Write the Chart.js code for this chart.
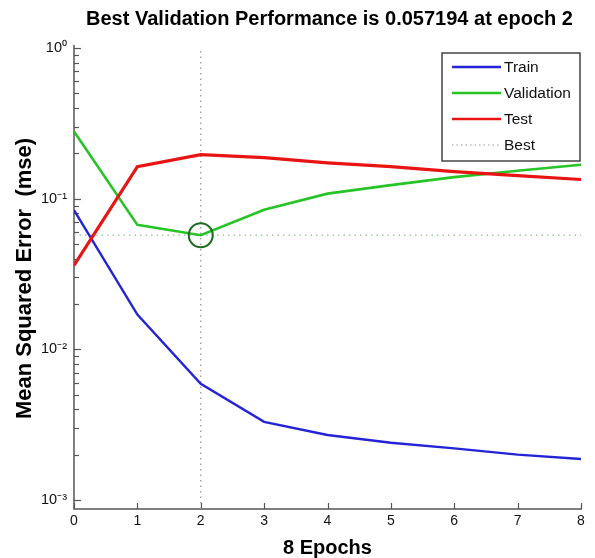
<!DOCTYPE html>
<html><head><meta charset="utf-8">
<script src="https://cdn.jsdelivr.net/npm/chart.js@4.4.1/dist/chart.umd.min.js"></script>
<style>html,body{margin:0;padding:0;background:#fff;}canvas{display:block;}</style>
</head><body>
<canvas id="c" width="595" height="558"></canvas>
<script>
const epochs = [0, 1, 2, 3, 4, 5, 6, 7, 8];
const trainMSE = [0.084, 0.017, 0.0059, 0.0033, 0.0027, 0.0024, 0.0022, 0.0020, 0.00187];
const validationMSE = [0.279, 0.067, 0.057194, 0.0845, 0.108, 0.123, 0.139, 0.153, 0.168];
const testMSE = [0.036, 0.163, 0.196, 0.187, 0.173, 0.163, 0.151, 0.142, 0.134];
const bestEpoch = 2;
const bestValue = 0.057194;
const xTickValues = [0, 1, 2, 3, 4, 5, 6, 7, 8];
const xTickLabels = ['0', '1', '2', '3', '4', '5', '6', '7', '8'];
const yTickValues = [0.001, 0.01, 0.1, 1];
const yTickLabels = ['10\u207B\u00B3', '10\u207B\u00B2', '10\u207B\u00B9', '10\u2070'];
const yMin = 0.000871, yMax = 1;
const legendLabels = ['Train', 'Validation', 'Test', 'Best'];
const titleText = 'Best Validation Performance is 0.057194 at epoch 2';
const xTitle = '8 Epochs';
const yTitle = 'Mean Squared Error  (mse)';

const COL = { train: '#2424d6', valid: '#27c427', test: '#e81414', best: '#9a9a9a', bestH: '#8cbf8c', circle: '#1e6a1e' };
const FONT = '"Liberation Sans", Arial, Helvetica, sans-serif';

const pts = (xs, ys) => xs.map((x, i) => ({ x: x, y: ys[i] }));

const axesPlugin = {
  id: 'axesDraw',
  beforeDatasetsDraw(chart) {
    const { ctx, chartArea: a, scales } = chart;
    const xs = scales.x, ys = scales.y;
    ctx.save();
    ctx.strokeStyle = '#555';
    ctx.lineWidth = 1.5;
    ctx.beginPath();
    ctx.moveTo(a.left, a.top - 3);
    ctx.lineTo(a.left, a.bottom);
    ctx.lineTo(a.right + 1, a.bottom);
    ctx.stroke();
    ctx.lineWidth = 1.2;
    yTickValues.forEach(dec => {
      for (let k = 1; k <= 9; k++) {
        const v = dec * k;
        if (v < yMin || v > yMax) continue;
        const y = Math.round(ys.getPixelForValue(v)) + 0.5;
        const len = k === 1 ? 7 : 5;
        ctx.beginPath(); ctx.moveTo(a.left, y); ctx.lineTo(a.left + len, y); ctx.stroke();
      }
    });
    xs.ticks.forEach(t => {
      const x = Math.round(xs.getPixelForValue(t.value)) + 0.5;
      ctx.beginPath(); ctx.moveTo(x, a.bottom); ctx.lineTo(x, a.bottom - 6); ctx.stroke();
    });
    ctx.restore();
  },
  afterDraw(chart) {
    const { ctx, chartArea: a } = chart;
    ctx.save();
    ctx.fillStyle = '#000';
    ctx.font = 'bold 20px ' + FONT;
    ctx.textAlign = 'center';
    ctx.textBaseline = 'middle';
    ctx.fillText(titleText, (a.left + a.right) / 2 + 2, 19);
    const w = 138, h = 108;
    const lx = a.right - 1 - w, ly = a.top + 5;
    ctx.fillStyle = '#fff';
    ctx.fillRect(lx, ly, w, h);
    ctx.strokeStyle = '#444';
    ctx.lineWidth = 1.5;
    ctx.strokeRect(lx, ly, w, h);
    const styles = [
      { c: COL.train, w: 2.5, dash: [] },
      { c: COL.valid, w: 2.5, dash: [] },
      { c: COL.test, w: 2.5, dash: [] },
      { c: COL.best, w: 1.2, dash: [1.5, 3] }
    ];
    ctx.font = '15.5px ' + FONT;
    ctx.textAlign = 'left';
    legendLabels.forEach((lab, i) => {
      const y = ly + 14 + i * 26;
      ctx.strokeStyle = styles[i].c;
      ctx.lineWidth = styles[i].w;
      ctx.setLineDash(styles[i].dash);
      ctx.beginPath(); ctx.moveTo(lx + 10, y); ctx.lineTo(lx + 59, y); ctx.stroke();
      ctx.setLineDash([]);
      ctx.fillStyle = '#111';
      ctx.fillText(lab, lx + 62, y + 1);
    });
    ctx.restore();
  }
};

new Chart(document.getElementById('c'), {
  type: 'line',
  data: {
    datasets: [
      { label: 'Best point', data: [{ x: bestEpoch, y: bestValue }], showLine: false,
        pointRadius: 12, pointHoverRadius: 12, pointBorderColor: COL.circle, pointBorderWidth: 2,
        pointBackgroundColor: 'rgba(0,0,0,0)' },
      { label: 'Test', data: pts(epochs, testMSE), borderColor: COL.test, borderWidth: 3.2, pointRadius: 0, tension: 0, fill: false },
      { label: 'Validation', data: pts(epochs, validationMSE), borderColor: COL.valid, borderWidth: 2.6, pointRadius: 0, tension: 0, fill: false },
      { label: 'Train', data: pts(epochs, trainMSE), borderColor: COL.train, borderWidth: 2.4, pointRadius: 0, tension: 0, fill: false },
      { label: 'Best', data: [{ x: epochs[0], y: bestValue }, { x: epochs[epochs.length - 1], y: bestValue }],
        borderColor: COL.bestH, borderWidth: 1.3, borderDash: [1.5, 4], pointRadius: 0, fill: false },
      { label: 'Best epoch', data: [{ x: bestEpoch, y: yMin }, { x: bestEpoch, y: yMax }],
        borderColor: COL.best, borderWidth: 1.3, borderDash: [1.5, 4], pointRadius: 0, fill: false, clip: 6 }
    ]
  },
  options: {
    responsive: false,
    animation: false,
    devicePixelRatio: 1,
    layout: { padding: { top: 48, left: 0, right: 13, bottom: 0 } },
    plugins: { legend: { display: false }, tooltip: { enabled: false }, title: { display: false } },
    scales: {
      x: {
        type: 'linear', min: 0, max: 8,
        afterBuildTicks: s => { s.ticks = xTickValues.map(v => ({ value: v })); },
        afterFit: s => { s.height = 49; },
        grid: { display: false, drawTicks: false },
        border: { display: false },
        ticks: { padding: 4, color: '#111', font: { size: 14, family: FONT }, maxRotation: 0, autoSkip: false,
          callback: (v, i) => xTickLabels[i] },
        title: { display: true, text: xTitle, color: '#000', font: { size: 20, weight: 'bold', family: FONT, lineHeight: 1 }, padding: 0 }
      },
      y: {
        type: 'logarithmic', min: yMin, max: yMax,
        afterBuildTicks: s => { s.ticks = yTickValues.map(v => ({ value: v })); },
        afterFit: s => { s.width = 74; },
        grid: { display: false, drawTicks: false },
        border: { display: false },
        ticks: { padding: 7, color: '#111', font: { size: 14.5, family: FONT }, autoSkip: false,
          callback: (v, i) => yTickLabels[i] },
        title: { display: true, text: yTitle, color: '#000', font: { size: 22, weight: 'bold', family: FONT, lineHeight: 1.2 }, padding: { top: 12, bottom: 0 } }
      }
    }
  },
  plugins: [axesPlugin]
});
</script>
</body></html>
